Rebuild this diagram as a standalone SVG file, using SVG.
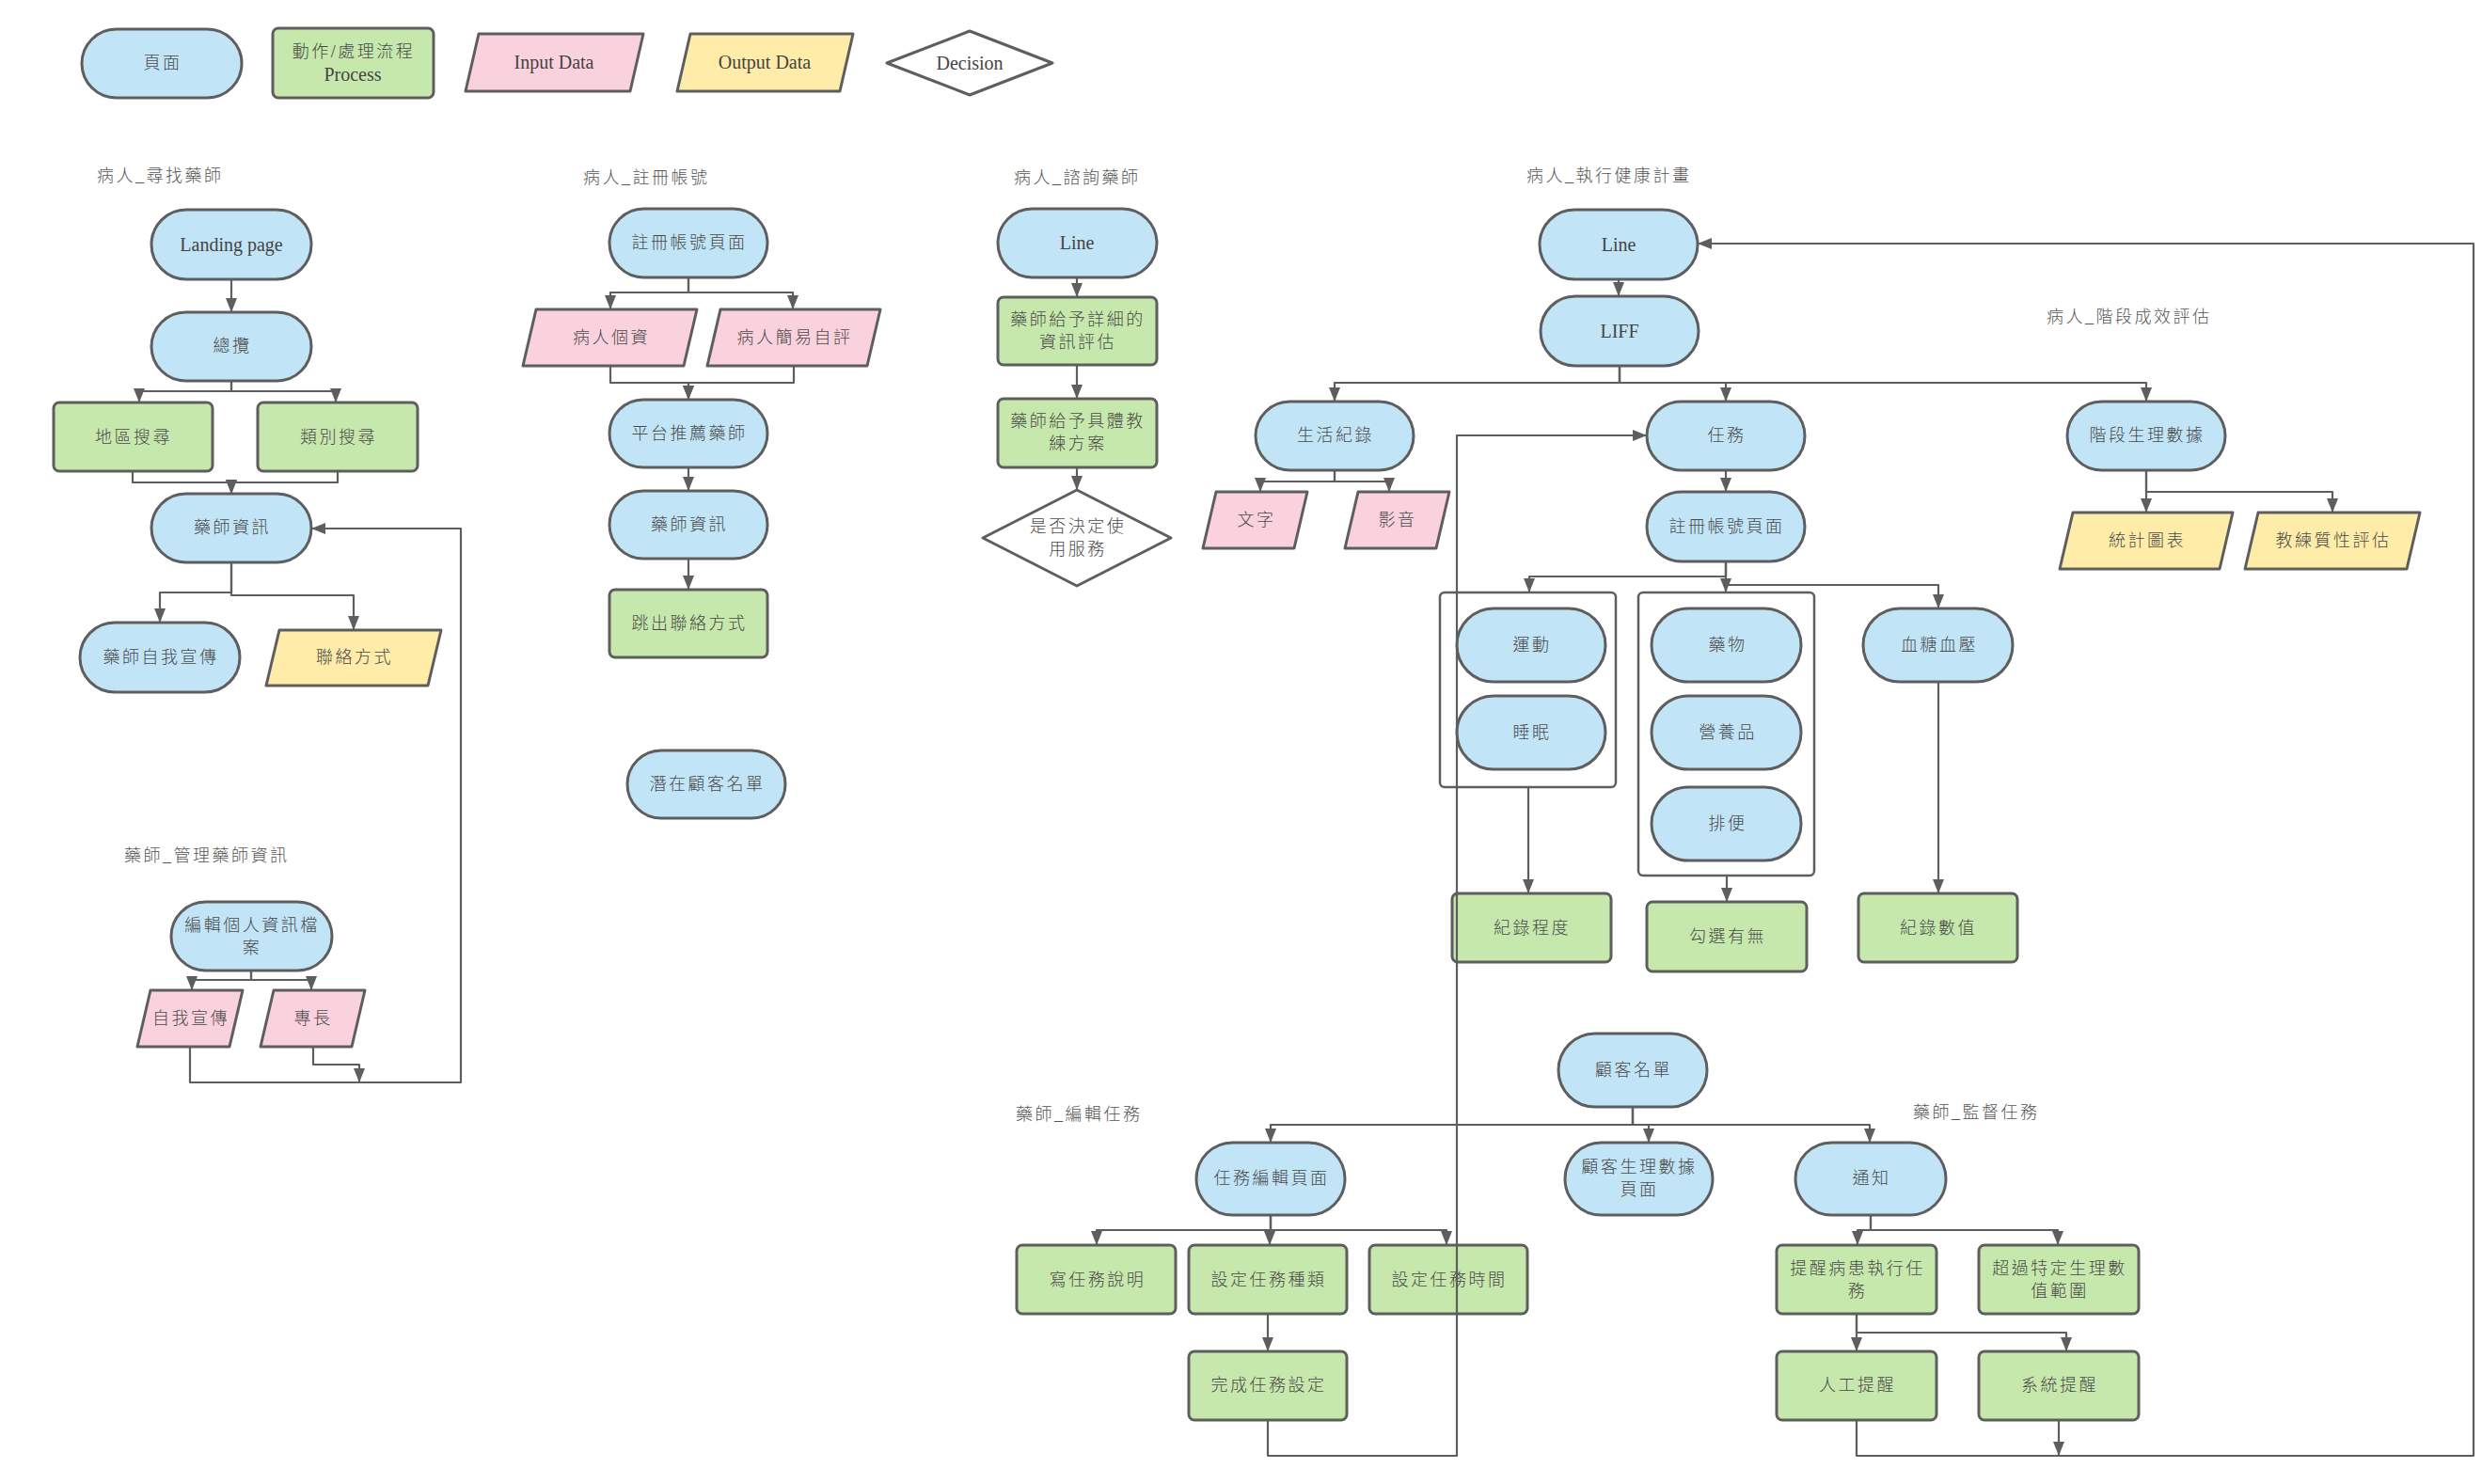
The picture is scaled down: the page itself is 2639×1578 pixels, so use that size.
<svg xmlns="http://www.w3.org/2000/svg" width="2639" height="1578" viewBox="0 0 2639 1578">
<defs>
<style>
.pg{fill:#c2e4f7;stroke:#5e5e5e;stroke-width:3}
.pr{fill:#c7e8ac;stroke:#5e5e5e;stroke-width:3}
.in{fill:#fad2de;stroke:#5e5e5e;stroke-width:3;stroke-linejoin:round}
.out{fill:#ffeca8;stroke:#5e5e5e;stroke-width:3;stroke-linejoin:round}
.dec{fill:#ffffff;stroke:#5e5e5e;stroke-width:3;stroke-linejoin:round}
.grp{fill:none;stroke:#5e5e5e;stroke-width:2.5}
.t{font-family:"Liberation Serif","Noto Sans CJK TC",serif;font-size:18px;font-weight:300;letter-spacing:2.5px;fill:#4a4a4a;text-anchor:middle;dominant-baseline:central}
.e{font-family:"Liberation Serif","Noto Sans CJK TC",serif;font-size:20px;fill:#444444;text-anchor:middle;dominant-baseline:central}
.lbl{font-family:"Liberation Serif","Noto Sans CJK TC",serif;font-size:18px;font-weight:300;letter-spacing:2.5px;fill:#555555;dominant-baseline:central}
.c{fill:none;stroke:#5e5e5e;stroke-width:2.2;stroke-linejoin:round;marker-end:url(#a)}
</style>
<marker id="a" viewBox="0 0 15 12" refX="15" refY="6" markerWidth="15" markerHeight="12" markerUnits="userSpaceOnUse" orient="auto">
<path d="M0,0 L15,6 L0,12 z" fill="#5e5e5e"/>
</marker>
</defs>
<rect width="2639" height="1578" fill="#ffffff"/>

<g id="legend">
<g id="lg-page"><rect class="pg" x="87" y="31" width="170" height="73" rx="36.5"/><text class="t" x="173" y="67">頁面</text></g>
<g id="lg-proc"><rect class="pr" x="290" y="30" width="171" height="74" rx="6"/><text class="t" x="376" y="55">動作/處理流程</text><text class="e" x="375" y="79">Process</text></g>
<g id="lg-in"><polygon class="in" points="509,36 684,36 670,97 495,97"/><text class="e" x="589" y="66">Input Data</text></g>
<g id="lg-out"><polygon class="out" points="734,36 907,36 893,97 720,97"/><text class="e" x="813" y="66">Output Data</text></g>
<g id="lg-dec"><polygon class="dec" points="943,67 1031,33 1119,67 1031,101"/><text class="e" x="1031" y="67">Decision</text></g>
</g>

<g id="labels">
<text class="lbl" x="103" y="187">病人_尋找藥師</text>
<text class="lbl" x="620" y="189">病人_註冊帳號</text>
<text class="lbl" x="1078" y="189">病人_諮詢藥師</text>
<text class="lbl" x="1623" y="187">病人_執行健康計畫</text>
<text class="lbl" x="2176" y="337">病人_階段成效評估</text>
<text class="lbl" x="132" y="910">藥師_管理藥師資訊</text>
<text class="lbl" x="1080" y="1185">藥師_編輯任務</text>
<text class="lbl" x="2034" y="1183">藥師_監督任務</text>
</g>

<g id="s1-landing"><rect class="pg" x="161" y="223" width="170" height="74" rx="37"/><text class="e" x="246" y="260">Landing page</text></g>
<g id="s1-overview"><rect class="pg" x="161" y="332" width="170" height="73" rx="36.5"/><text class="t" x="247" y="368">總攬</text></g>
<g id="s1-area"><rect class="pr" x="57" y="428" width="169" height="73" rx="6"/><text class="t" x="142" y="465">地區搜尋</text></g>
<g id="s1-cat"><rect class="pr" x="274" y="428" width="170" height="73" rx="6"/><text class="t" x="360" y="465">類別搜尋</text></g>
<g id="s1-info"><rect class="pg" x="161" y="525" width="170" height="73" rx="36.5"/><text class="t" x="247" y="561">藥師資訊</text></g>
<g id="s1-promo"><rect class="pg" x="85" y="662" width="170" height="74" rx="37"/><text class="t" x="171" y="699">藥師自我宣傳</text></g>
<g id="s1-contact"><polygon class="out" points="297,670 469,670 455,729 283,729"/><text class="t" x="377" y="699">聯絡方式</text></g>

<g id="m-edit"><rect class="pg" x="182" y="959" width="171" height="73" rx="36.5"/><text class="t" x="268" y="984">編輯個人資訊檔</text><text class="t" x="268" y="1008">案</text></g>
<g id="m-promo"><polygon class="in" points="160,1053 258,1053 244,1113 146,1113"/><text class="t" x="203" y="1083">自我宣傳</text></g>
<g id="m-skill"><polygon class="in" points="291,1053 388,1053 374,1113 277,1113"/><text class="t" x="333" y="1083">專長</text></g>

<g id="s2-reg"><rect class="pg" x="648" y="222" width="168" height="73" rx="36.5"/><text class="t" x="733" y="258">註冊帳號頁面</text></g>
<g id="s2-pdata"><polygon class="in" points="570,329 741,329 727,389 556,389"/><text class="t" x="650" y="359">病人個資</text></g>
<g id="s2-self"><polygon class="in" points="766,329 936,329 922,389 752,389"/><text class="t" x="845" y="359">病人簡易自評</text></g>
<g id="s2-rec"><rect class="pg" x="648" y="425" width="168" height="72" rx="36"/><text class="t" x="733" y="461">平台推薦藥師</text></g>
<g id="s2-info"><rect class="pg" x="648" y="522" width="168" height="72" rx="36"/><text class="t" x="733" y="558">藥師資訊</text></g>
<g id="s2-contact"><rect class="pr" x="648" y="627" width="168" height="72" rx="6"/><text class="t" x="733" y="663">跳出聯絡方式</text></g>
<g id="s2-pot"><rect class="pg" x="667" y="798" width="168" height="72" rx="36"/><text class="t" x="752" y="834">潛在顧客名單</text></g>

<g id="s3-line"><rect class="pg" x="1061" y="222" width="169" height="73" rx="36.5"/><text class="e" x="1145" y="258">Line</text></g>
<g id="s3-eval"><rect class="pr" x="1061" y="316" width="169" height="72" rx="6"/><text class="t" x="1146" y="340">藥師給予詳細的</text><text class="t" x="1146" y="364">資訊評估</text></g>
<g id="s3-plan"><rect class="pr" x="1061" y="424" width="169" height="73" rx="6"/><text class="t" x="1146" y="448">藥師給予具體教</text><text class="t" x="1146" y="472">練方案</text></g>
<g id="s3-dec"><polygon class="dec" points="1045,572 1145,521 1245,572 1145,623"/><text class="t" x="1146" y="560">是否決定使</text><text class="t" x="1146" y="584">用服務</text></g>

<g id="s4-line"><rect class="pg" x="1637" y="223" width="168" height="74" rx="37"/><text class="e" x="1721" y="260">Line</text></g>
<g id="s4-liff"><rect class="pg" x="1638" y="315" width="168" height="74" rx="37"/><text class="e" x="1722" y="352">LIFF</text></g>
<g id="s4-life"><rect class="pg" x="1335" y="427" width="168" height="73" rx="36.5"/><text class="t" x="1420" y="463">生活紀錄</text></g>
<g id="s4-task"><rect class="pg" x="1751" y="427" width="168" height="73" rx="36.5"/><text class="t" x="1836" y="463">任務</text></g>
<g id="s4-stage"><rect class="pg" x="2198" y="427" width="168" height="73" rx="36.5"/><text class="t" x="2283" y="463">階段生理數據</text></g>
<g id="s4-text"><polygon class="in" points="1293,523 1390,523 1376,583 1279,583"/><text class="t" x="1336" y="553">文字</text></g>
<g id="s4-video"><polygon class="in" points="1444,523 1541,523 1527,583 1430,583"/><text class="t" x="1486" y="553">影音</text></g>
<g id="s4-reg"><rect class="pg" x="1751" y="523" width="168" height="74" rx="37"/><text class="t" x="1836" y="560">註冊帳號頁面</text></g>
<g id="s4-chart"><polygon class="out" points="2204,545 2374,545 2360,605 2190,605"/><text class="t" x="2283" y="575">統計圖表</text></g>
<g id="s4-coach"><polygon class="out" points="2401,545 2573,545 2559,605 2387,605"/><text class="t" x="2481" y="575">教練質性評估</text></g>
<g id="s4-grp1"><rect class="grp" x="1531" y="630" width="187" height="207" rx="5"/></g>
<g id="s4-grp2"><rect class="grp" x="1742" y="630" width="187" height="301" rx="5"/></g>
<g id="s4-ex"><rect class="pg" x="1549" y="647" width="158" height="78" rx="39"/><text class="t" x="1629" y="686">運動</text></g>
<g id="s4-sleep"><rect class="pg" x="1549" y="740" width="158" height="78" rx="39"/><text class="t" x="1629" y="779">睡眠</text></g>
<g id="s4-med"><rect class="pg" x="1756" y="647" width="159" height="78" rx="39"/><text class="t" x="1837" y="686">藥物</text></g>
<g id="s4-supp"><rect class="pg" x="1756" y="740" width="159" height="78" rx="39"/><text class="t" x="1837" y="779">營養品</text></g>
<g id="s4-bowel"><rect class="pg" x="1756" y="837" width="159" height="78" rx="39"/><text class="t" x="1837" y="876">排便</text></g>
<g id="s4-bg"><rect class="pg" x="1981" y="647" width="159" height="78" rx="39"/><text class="t" x="2062" y="686">血糖血壓</text></g>
<g id="s4-deg"><rect class="pr" x="1544" y="950" width="169" height="73" rx="6"/><text class="t" x="1629" y="987">紀錄程度</text></g>
<g id="s4-check"><rect class="pr" x="1751" y="959" width="170" height="74" rx="6"/><text class="t" x="1837" y="996">勾選有無</text></g>
<g id="s4-val"><rect class="pr" x="1976" y="950" width="169" height="73" rx="6"/><text class="t" x="2061" y="987">紀錄數值</text></g>

<g id="p-list"><rect class="pg" x="1657" y="1099" width="158" height="78" rx="39"/><text class="t" x="1737" y="1138">顧客名單</text></g>
<g id="p-taskedit"><rect class="pg" x="1272" y="1215" width="158" height="77" rx="38.5"/><text class="t" x="1352" y="1253">任務編輯頁面</text></g>
<g id="p-phys"><rect class="pg" x="1664" y="1215" width="157" height="77" rx="38.5"/><text class="t" x="1743" y="1241">顧客生理數據</text><text class="t" x="1743" y="1265">頁面</text></g>
<g id="p-notify"><rect class="pg" x="1909" y="1215" width="160" height="77" rx="38.5"/><text class="t" x="1990" y="1253">通知</text></g>
<g id="p-desc"><rect class="pr" x="1081" y="1324" width="169" height="73" rx="6"/><text class="t" x="1167" y="1361">寫任務說明</text></g>
<g id="p-type"><rect class="pr" x="1264" y="1324" width="168" height="73" rx="6"/><text class="t" x="1349" y="1361">設定任務種類</text></g>
<g id="p-time"><rect class="pr" x="1456" y="1324" width="168" height="73" rx="6"/><text class="t" x="1541" y="1361">設定任務時間</text></g>
<g id="p-done"><rect class="pr" x="1264" y="1437" width="168" height="73" rx="6"/><text class="t" x="1349" y="1473">完成任務設定</text></g>
<g id="p-remind"><rect class="pr" x="1889" y="1324" width="170" height="73" rx="6"/><text class="t" x="1975" y="1349">提醒病患執行任</text><text class="t" x="1975" y="1373">務</text></g>
<g id="p-over"><rect class="pr" x="2104" y="1324" width="170" height="73" rx="6"/><text class="t" x="2190" y="1349">超過特定生理數</text><text class="t" x="2190" y="1373">值範圍</text></g>
<g id="p-manual"><rect class="pr" x="1889" y="1437" width="170" height="73" rx="6"/><text class="t" x="1975" y="1473">人工提醒</text></g>
<g id="p-system"><rect class="pr" x="2104" y="1437" width="170" height="73" rx="6"/><text class="t" x="2190" y="1473">系統提醒</text></g>

<g id="connectors">
<path class="c" d="M246,297 V332"/>
<path class="c" d="M246,405 V416 H148 V428"/>
<path class="c" d="M246,405 V416 H357 V428"/>
<path class="c" d="M141,501 V513 H246 V525"/>
<path class="c" d="M359,501 V513 H246 V525"/>
<path class="c" d="M246,598 V630 H170 V662"/>
<path class="c" d="M246,598 V633 H376 V670"/>
<path class="c" d="M202,1113 V1151 H490 V562 H331"/>
<path class="c" d="M267,1032 V1042 H204 V1053"/>
<path class="c" d="M267,1032 V1042 H331 V1053"/>
<path class="c" d="M333,1113 V1132 H382 V1151"/>

<path class="c" d="M732,295 V311 H649 V329"/>
<path class="c" d="M732,295 V311 H843 V329"/>
<path class="c" d="M649,389 V407 H732 V425"/>
<path class="c" d="M844,389 V407 H732 V425"/>
<path class="c" d="M732,497 V522"/>
<path class="c" d="M732,594 V627"/>

<path class="c" d="M1145,295 V316"/>
<path class="c" d="M1145,388 V424"/>
<path class="c" d="M1145,497 V521"/>

<path class="c" d="M1721,297 V315"/>
<path class="c" d="M1722,389 V407 H1419 V427"/>
<path class="c" d="M1722,389 V407 H1835 V427"/>
<path class="c" d="M1722,389 V407 H2282 V427"/>
<path class="c" d="M1419,500 V512 H1340 V523"/>
<path class="c" d="M1419,500 V512 H1477 V523"/>
<path class="c" d="M1835,500 V523"/>
<path class="c" d="M2282,500 V545"/>
<path class="c" d="M2282,500 V523 H2480 V545"/>
<path class="c" d="M1835,597 V613 H1626 V630"/>
<path class="c" d="M1835,597 V630"/>
<path class="c" d="M1835,597 V622 H2061 V647"/>
<path class="c" d="M1625,837 V950"/>
<path class="c" d="M1836,931 V959"/>
<path class="c" d="M2061,725 V950"/>

<path class="c" d="M1736,1177 V1196 H1351 V1215"/>
<path class="c" d="M1736,1177 V1196 H1753 V1215"/>
<path class="c" d="M1736,1177 V1196 H1988 V1215"/>
<path class="c" d="M1351,1292 V1308 H1166 V1324"/>
<path class="c" d="M1351,1292 V1308 H1350 V1324"/>
<path class="c" d="M1351,1292 V1308 H1538 V1324"/>
<path class="c" d="M1348,1397 V1437"/>
<path class="c" d="M1348,1510 V1548 H1549 V463 H1751"/>
<path class="c" d="M1989,1292 V1308 H1975 V1324"/>
<path class="c" d="M1989,1292 V1308 H2188 V1324"/>
<path class="c" d="M1974,1397 V1437"/>
<path class="c" d="M1974,1397 V1417 H2197 V1437"/>
<path class="c" d="M1974,1510 V1548 H2630 V259 H1805"/>
<path class="c" d="M2189,1510 V1548"/>
</g>
</svg>
